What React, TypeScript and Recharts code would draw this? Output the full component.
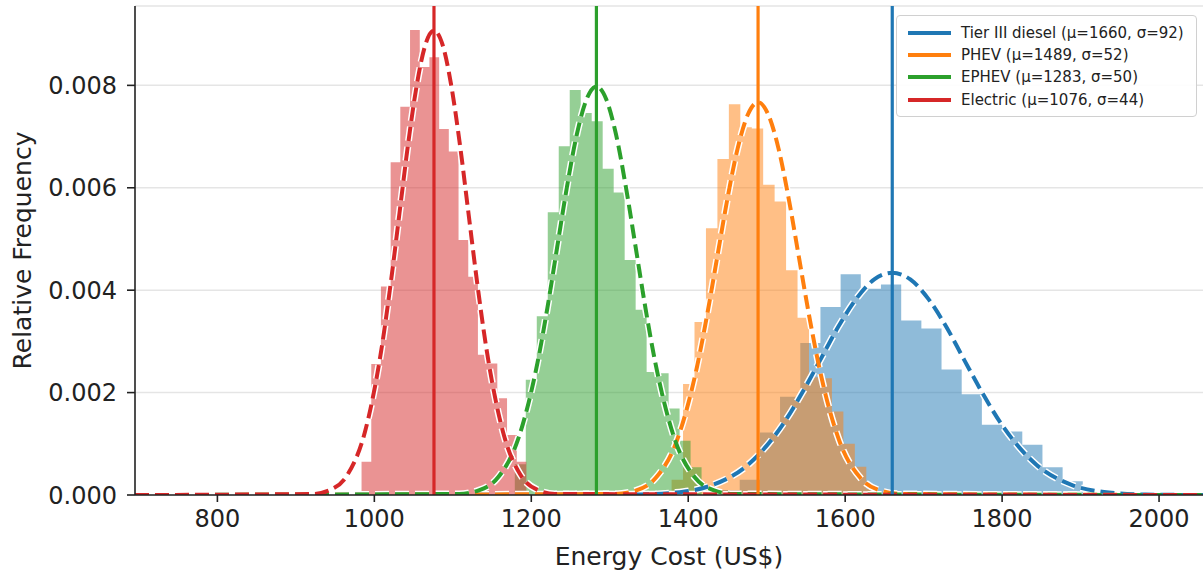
import { Area, CartesianGrid, ComposedChart, Line, ReferenceLine, XAxis, YAxis } from "recharts";

// legend / series info (order: blue, orange, green, red)
const names = ["Tier III diesel", "PHEV", "EPHEV", "Electric"];
const means = [1660, 1489, 1283, 1076];
const sigmas = [92, 52, 50, 44];
const colors = ["#1f77b4", "#ff7f0e", "#2ca02c", "#d62728"];

const xTicks = [800, 1000, 1200, 1400, 1600, 1800, 2000];
const yTicks = [0, 0.002, 0.004, 0.006, 0.008];

// histogram bin edges and heights (density)
const dieselEdges = [1439.9, 1465.6, 1491.3, 1517.0, 1542.8, 1568.5, 1594.2, 1619.9, 1645.6, 1671.4, 1697.1, 1722.8, 1748.5, 1774.2, 1800.0, 1825.7, 1851.4, 1877.1, 1902.8];
const dieselFreq = [0.0001, 0.0003, 0.00122, 0.00192, 0.00297, 0.00367, 0.00431, 0.00403, 0.00411, 0.00341, 0.00325, 0.00245, 0.00197, 0.00137, 0.00124, 0.00098, 0.00054, 0.00027];

const phevEdges = [1378.8, 1393.4, 1408.0, 1422.6, 1437.2, 1451.8, 1466.4, 1481.0, 1495.5, 1510.1, 1524.7, 1539.3, 1553.9, 1568.5, 1583.1, 1597.7, 1612.3, 1626.9, 1641.5];
const phevFreq = [0.0003, 0.00217, 0.00338, 0.00521, 0.00656, 0.00763, 0.00718, 0.00716, 0.00606, 0.00573, 0.00439, 0.00346, 0.0023, 0.00228, 0.00163, 0.001, 0.00055, 0.00012];

const ephevEdges = [1179, 1193, 1207, 1221, 1235, 1249, 1263, 1277, 1291, 1305, 1319, 1333, 1347, 1361, 1375, 1389, 1403, 1417];
const ephevFreq = [0.0006, 0.00225, 0.00349, 0.00552, 0.00681, 0.00791, 0.00746, 0.0073, 0.00637, 0.00591, 0.00459, 0.00362, 0.0024, 0.00238, 0.00169, 0.00106, 0.00054];

const electricEdges = [983.7, 996.1, 1008.4, 1020.8, 1033.1, 1045.5, 1057.9, 1070.2, 1082.6, 1094.9, 1107.3, 1119.7, 1132.0, 1144.4, 1156.7, 1169.1, 1181.5, 1193.8];
const electricFreq = [0.00065, 0.00256, 0.00407, 0.0065, 0.00758, 0.00908, 0.00836, 0.00855, 0.00715, 0.00671, 0.00498, 0.00426, 0.00274, 0.00257, 0.00189, 0.00117, 0.00065];

// fitted curves
const dieselCurveX = [695, 1338, 1384, 1430, 1476, 1522, 1545, 1568, 1591, 1614, 1637, 1660, 1683, 1706, 1729, 1752, 1775, 1798, 1844, 1890, 1936, 1982, 2056];
const dieselCurveY = [0, 0.00001, 0.000048, 0.00019, 0.000587, 0.00141, 0.00199, 0.00263, 0.00328, 0.00383, 0.00421, 0.00434, 0.00421, 0.00383, 0.00328, 0.00263, 0.00199, 0.00141, 0.000587, 0.00019, 0.000048, 0.00001, 0];

const phevCurveX = [695, 1307, 1333, 1359, 1385, 1411, 1424, 1437, 1450, 1463, 1476, 1489, 1502, 1515, 1528, 1541, 1554, 1567, 1593, 1619, 1645, 1671, 2056];
const phevCurveY = [0, 0.00002, 0.000085, 0.00034, 0.00104, 0.00249, 0.00351, 0.00465, 0.00579, 0.00677, 0.00743, 0.00767, 0.00743, 0.00677, 0.00579, 0.00465, 0.00351, 0.00249, 0.00104, 0.00034, 0.000085, 0.00002, 0];

const ephevCurveX = [695, 1108, 1133, 1158, 1183, 1208, 1220.5, 1233, 1245.5, 1258, 1270.5, 1283, 1295.5, 1308, 1320.5, 1333, 1345.5, 1358, 1383, 1408, 1433, 1458, 2056];
const ephevCurveY = [0, 0.00002, 0.00009, 0.00035, 0.00108, 0.00259, 0.00365, 0.00484, 0.00602, 0.00704, 0.00773, 0.00798, 0.00773, 0.00704, 0.00602, 0.00484, 0.00365, 0.00259, 0.00108, 0.00035, 0.00009, 0.00002, 0];

const electricCurveX = [695, 922, 944, 966, 988, 1010, 1021, 1032, 1043, 1054, 1065, 1076, 1087, 1098, 1109, 1120, 1131, 1142, 1164, 1186, 1208, 1230, 2056];
const electricCurveY = [0, 0.00002, 0.0001, 0.0004, 0.00123, 0.00294, 0.00415, 0.0055, 0.00685, 0.008, 0.00879, 0.00907, 0.00879, 0.008, 0.00685, 0.0055, 0.00415, 0.00294, 0.00123, 0.0004, 0.0001, 0.00002, 0];

const font = "DejaVu Sans";
const dash = "14 6";

const toSteps = (edges: number[], freq: number[]) =>
  edges.map((x, i) => ({ x, y: i < freq.length ? freq[i] : 0 }));
const toCurve = (xs: number[], ys: number[]) => xs.map((x, i) => ({ x, y: ys[i] }));

const hists = [
  toSteps(dieselEdges, dieselFreq),
  toSteps(phevEdges, phevFreq),
  toSteps(ephevEdges, ephevFreq),
  toSteps(electricEdges, electricFreq),
];
const curves = [
  toCurve(dieselCurveX, dieselCurveY),
  toCurve(phevCurveX, phevCurveY),
  toCurve(ephevCurveX, ephevCurveY),
  toCurve(electricCurveX, electricCurveY),
];

function LegendBox() {
  return (
    <div
      style={{
        position: "absolute",
        left: 896,
        top: 15,
        width: 301,
        boxSizing: "border-box",
        padding: "6px 0 5px 0",
        background: "rgba(255,255,255,0.9)",
        border: "1px solid #d0d0d0",
        borderRadius: 4,
        fontFamily: font,
        fontSize: 15,
        color: "#222",
      }}
    >
      {names.map((n, i) => (
        <div key={n} style={{ display: "flex", alignItems: "center", height: 22.2 }}>
          <div style={{ width: 43, height: 4, background: colors[i], marginLeft: 11, marginRight: 10 }} />
          <span>{`${n} (μ=${means[i]}, σ=${sigmas[i]})`}</span>
        </div>
      ))}
    </div>
  );
}

export default function App() {
  return (
    <div style={{ position: "absolute", left: 0, top: 0, width: 1203, height: 575, background: "#fff" }}>
      <ComposedChart width={1203} height={575} margin={{ top: 6, right: 0, bottom: 0, left: 0 }}>
        <CartesianGrid vertical={false} stroke="#e5e5e5" strokeWidth={1.5} />
        <XAxis
          type="number"
          dataKey="x"
          domain={[695, 2056]}
          ticks={xTicks}
          allowDataOverflow
          height={80}
          stroke="#222"
          strokeWidth={1.6}
          tickSize={7}
          tickMargin={8}
          tick={{ fontSize: 24, fill: "#222", fontFamily: font }}
          label={{
            value: "Energy Cost (US$)",
            position: "insideBottom",
            offset: 10,
            style: { fontSize: 25, fill: "#222", fontFamily: font },
          }}
        />
        <YAxis
          type="number"
          domain={[0, 0.00955]}
          ticks={yTicks}
          allowDataOverflow
          width={135}
          stroke="#222"
          strokeWidth={1.6}
          tickSize={8}
          tickMargin={10}
          tickFormatter={(v: number) => v.toFixed(3)}
          tick={{ fontSize: 24, fill: "#222", fontFamily: font }}
          label={{
            value: "Relative Frequency",
            angle: -90,
            position: "insideLeft",
            offset: 22,
            style: { textAnchor: "middle", fontSize: 25, fill: "#222", fontFamily: font },
          }}
        />
        {hists.map((d, i) => (
          <Area
            key={"h" + i}
            data={d}
            dataKey="y"
            type="stepAfter"
            fill={colors[i]}
            fillOpacity={0.5}
            stroke="none"
            isAnimationActive={false}
          />
        ))}
        {curves.map((d, i) => (
          <Line
            key={"w" + i}
            data={d}
            dataKey="y"
            type="monotone"
            stroke="#fff"
            strokeWidth={7}
            strokeDasharray={dash}
            dot={false}
            activeDot={false}
            legendType="none"
            isAnimationActive={false}
          />
        ))}
        {curves.map((d, i) => (
          <Line
            key={"c" + i}
            data={d}
            dataKey="y"
            type="monotone"
            stroke={colors[i]}
            strokeWidth={4}
            strokeDasharray={dash}
            dot={false}
            activeDot={false}
            isAnimationActive={false}
          />
        ))}
        {means.map((m, i) => (
          <ReferenceLine key={"m" + i} x={m} stroke={colors[i]} strokeWidth={3.2} />
        ))}
      </ComposedChart>
      <LegendBox />
    </div>
  );
}
